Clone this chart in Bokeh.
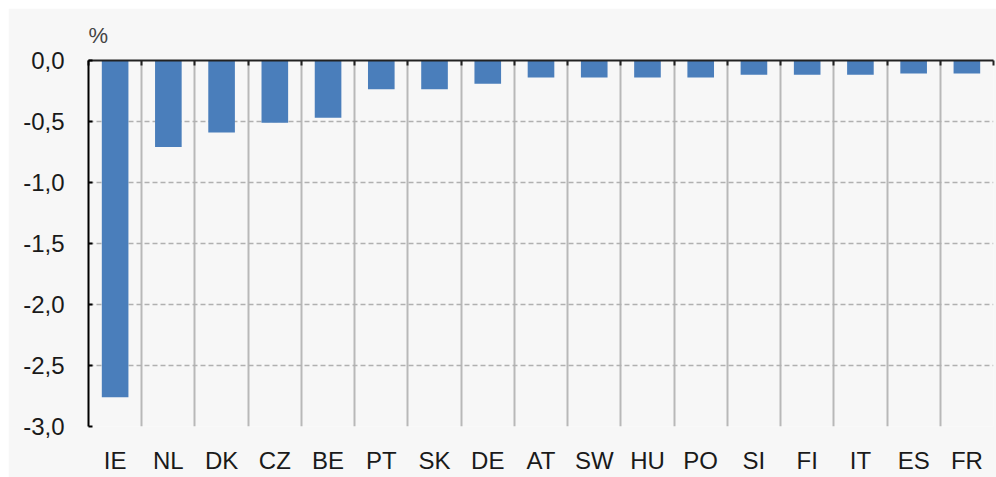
from bokeh.plotting import figure
from bokeh.models import Range1d, FixedTicker, LinearAxis, ColumnDataSource, Spacer
from bokeh.layouts import column, row
from bokeh.embed import file_html
from bokeh.resources import INLINE

countries = ["IE", "NL", "DK", "CZ", "BE", "PT", "SK", "DE", "AT", "SW",
             "HU", "PO", "SI", "FI", "IT", "ES", "FR"]
values = [-2.76, -0.71, -0.59, -0.51, -0.47, -0.235, -0.235, -0.19, -0.14, -0.14,
          -0.14, -0.14, -0.117, -0.117, -0.117, -0.106, -0.106]
y_ticks = [0.0, -0.5, -1.0, -1.5, -2.0, -2.5, -3.0]
y_tick_labels = ["0,0", "-0,5", "-1,0", "-1,5", "-2,0", "-2,5", "-3,0"]

n = len(countries)
centers = [i + 0.5 for i in range(n)]
src = ColumnDataSource(dict(x=centers, top=[0] * n, bottom=values))

BG = "#f7f7f7"
FONT = "Liberation Sans"

p = figure(width=988, height=469, output_backend="svg", toolbar_location=None,
           x_range=Range1d(0, n), y_range=Range1d(-3.0, 0.0),
           x_axis_location="below", min_border_left=80, min_border_right=3,
           min_border_top=50, min_border_bottom=51)
p.background_fill_color = BG
p.border_fill_color = BG
p.outline_line_color = None

p.vbar(x="x", top="top", bottom="bottom", width=0.5, source=src,
       fill_color="#4a7ebb", line_color=None)

# y axis
p.yaxis.ticker = FixedTicker(ticks=y_ticks)
p.yaxis.major_label_overrides = {t: l for t, l in zip(y_ticks, y_tick_labels)}
p.yaxis.axis_line_color = "black"
p.yaxis.axis_line_width = 2
p.yaxis.major_tick_in = 4
p.yaxis.major_tick_out = 0
p.yaxis.major_tick_line_color = "black"
p.yaxis.major_tick_line_width = 2
p.yaxis.minor_tick_line_color = None
p.yaxis.major_label_text_font = FONT
p.yaxis.major_label_text_font_size = "24px"
p.yaxis.major_label_text_color = "#1a1a1a"
p.yaxis.major_label_standoff = 24

# x axis (labels only)
p.xaxis.ticker = FixedTicker(ticks=centers)
p.xaxis.major_label_overrides = {c: name for c, name in zip(centers, countries)}
p.xaxis.axis_line_color = None
p.xaxis.major_tick_line_color = None
p.xaxis.minor_tick_line_color = None
p.xaxis.major_label_text_font = FONT
p.xaxis.major_label_text_font_size = "24px"
p.xaxis.major_label_text_color = "#1a1a1a"
p.xaxis.major_label_standoff = 14

# zero line axis on top with boundary ticks
top_axis = LinearAxis(ticker=FixedTicker(ticks=list(range(n + 1))))
top_axis.major_label_text_font_size = "0px"
top_axis.major_label_text_color = None
top_axis.axis_line_color = "#222222"
top_axis.axis_line_width = 2
top_axis.major_tick_in = 5
top_axis.major_tick_out = 0
top_axis.major_tick_line_color = "#222222"
top_axis.major_tick_line_width = 2
top_axis.minor_tick_line_color = None
top_axis.major_label_standoff = 0
p.add_layout(top_axis, "above")

# grids
p.xgrid.ticker = FixedTicker(ticks=list(range(n + 1)))
p.xgrid.grid_line_color = "#b8b8b8"
p.xgrid.grid_line_width = 2
p.ygrid.ticker = FixedTicker(ticks=y_ticks)
p.ygrid.grid_line_color = "#b0b0b0"
p.ygrid.grid_line_width = 1.5
p.ygrid.grid_line_dash = "5 3"

p.title.text = "%"
p.title.align = "left"
p.title.text_font = FONT
p.title.text_font_style = "normal"
p.title.text_font_size = "22px"
p.title.text_color = "#444444"
p.title.standoff = 25

layout = row(Spacer(width=8, height=477),
             column(Spacer(height=8, width=988), p, spacing=0), spacing=0)
open("out.html", "w").write(file_html(layout, INLINE))
